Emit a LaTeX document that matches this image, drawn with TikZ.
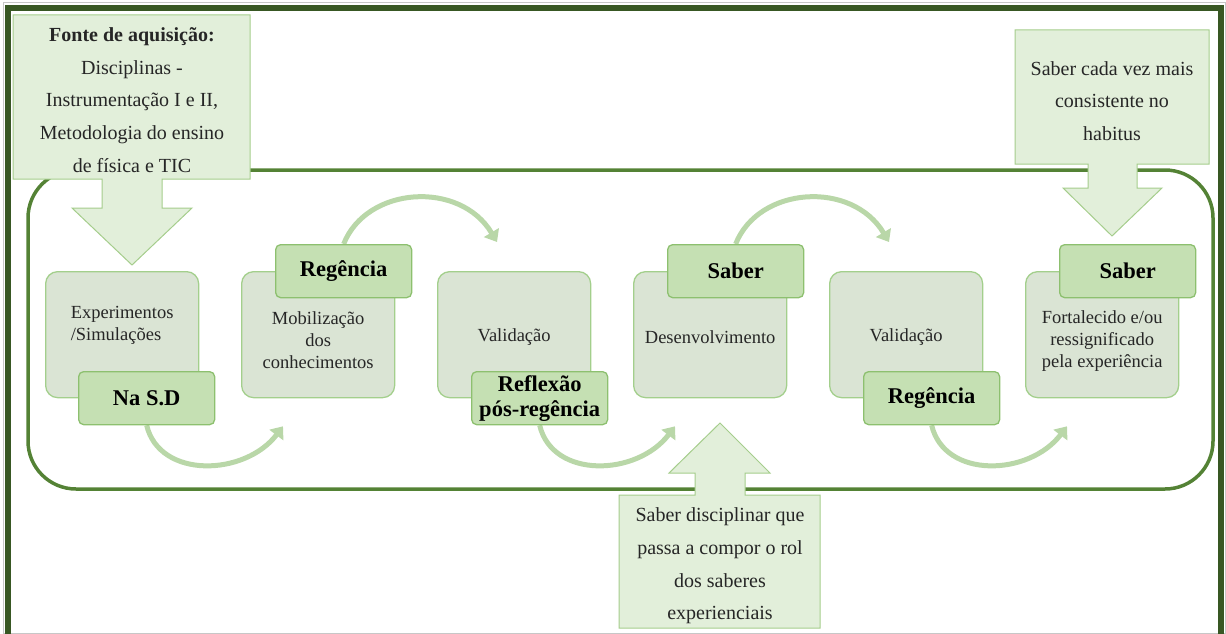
\documentclass[tikz,border=0pt]{standalone}
\usepackage{fontspec}
\setmainfont{Liberation Serif}
\usetikzlibrary{arrows.meta,calc}

\definecolor{framedark}{HTML}{385723}
\definecolor{framemid}{HTML}{548235}
\definecolor{callfill}{HTML}{E2EFDA}
\definecolor{calldraw}{HTML}{A5CD8C}
\definecolor{boxfill}{HTML}{DAE4D4}
\definecolor{boxdraw}{HTML}{A3CF8C}
\definecolor{tagfill}{HTML}{C5E0B3}
\definecolor{tagdraw}{HTML}{8DC06F}
\definecolor{arcgreen}{HTML}{B9D7A8}
\definecolor{bodytext}{HTML}{262626}

\pgfdeclarelayer{background}
\pgfsetlayers{background,main}

\tikzset{
  stage/.style={draw=boxdraw, fill=boxfill, line width=1.3pt, rounded corners=12pt,
    minimum width=153pt, minimum height=126pt, inner sep=0pt, anchor=north west},
  tag/.style={draw=tagdraw, fill=tagfill, line width=1.3pt, rounded corners=5pt,
    minimum width=136pt, minimum height=53pt, inner sep=0pt, anchor=north west,
    align=center, font=\fontsize{22.5}{25}\selectfont\bfseries},
  stagetext/.style={text=bodytext, font=\fontsize{18.5}{22}\selectfont, inner sep=0pt},
  calltext/.style={text=black!85, align=center, inner sep=0pt,
    font=\fontsize{20}{32.7}\selectfont},
  callout/.style={draw=calldraw, fill=callfill, line width=1pt},
  flow/.style={draw=arcgreen, line width=5pt,
    -{Triangle[length=11pt,width=17pt]}},
}

\begin{document}
\begin{tikzpicture}[x=1pt,y=-1pt]
  \useasboundingbox (0,0) rectangle (1226,634);

  % page frame
  \draw[black!22, line width=1pt] (3,3) rectangle (1225.5,633);
  \draw[framedark, line width=5.5pt] (8,636) -- (8,8) -- (1221,8) -- (1221,636);

  % rounded frame around the sequence
  \draw[framemid, line width=3.5pt, rounded corners=48pt] (28,170) rectangle (1213,489);

  % incoming / outgoing callouts
  \draw[callout] (13,15) -- (250,15) -- (250,179) -- (162,179) -- (162,208)
    -- (192,208) -- (132,265) -- (72,208) -- (102,208) -- (102,179) -- (13,179) -- cycle;
  \node[calltext] (src) at (132,100)
    {\textbf{Fonte de aquisição:}\\Disciplinas -\\Instrumentação I e II,\\Metodologia do ensino\\de física e TIC};

  \draw[callout] (1015,30) -- (1209,30) -- (1209,164) -- (1137,164) -- (1137,188)
    -- (1162,188) -- (1112,236) -- (1063,188) -- (1088,188) -- (1088,164) -- (1015,164) -- cycle;
  \node[calltext] (habitus) at (1112,101)
    {Saber cada vez mais\\consistente no\\habitus};

  \draw[callout] (619,628) -- (619,495) -- (695,495) -- (695,473) -- (669,473)
    -- (720,423) -- (770,473) -- (745,473) -- (745,495) -- (820,495) -- (820,628) -- cycle;
  \node[calltext] (rol) at (720,566)
    {Saber disciplinar que\\passa a compor o rol\\dos saberes\\experienciais};

  % stages
  \node[stage] (b1) at (45,271) {};
  \node[stage] (b2) at (241,271) {};
  \node[stage] (b3) at (437,271) {};
  \node[stage] (b4) at (633,271) {};
  \node[stage] (b5) at (829,271) {};
  \node[stage] (b6) at (1025,271) {};

  \node[stagetext, align=left] (t1) at ($(b1.center)+(0,-9)$) {Experimentos\\/Simulações};
  \node[stagetext, align=center] (t2) at ($(b2.center)+(0,6)$) {Mobilização\\dos\\conhecimentos};
  \node[stagetext] (t3) at ($(b3.center)+(0,2)$) {Validação};
  \node[stagetext] (t4) at ($(b4.center)+(0,3)$) {Desenvolvimento};
  \node[stagetext] (t5) at ($(b5.center)+(0,2)$) {Validação};
  \node[stagetext, align=center] (t6) at ($(b6.center)+(0,6)$) {Fortalecido e/ou\\ressignificado\\pela experiência};

  % stage tags
  \node[tag] (l1) at ($(b1.north west)+(33,100)$) {Na S.D};
  \node[tag] (l2) at ($(b2.north west)+(34,-27)$) {Regência};
  \node[tag] (l3) at ($(b3.north west)+(34,100)$) {Reflexão\\pós-regência};
  \node[tag] (l4) at ($(b4.north west)+(34,-27)$) {Saber};
  \node[tag] (l5) at ($(b5.north west)+(34,100)$) {Regência};
  \node[tag] (l6) at ($(b6.north west)+(34,-27)$) {Saber};

  % curved flow arrows between stages
  \begin{pgfonlayer}{background}
    \draw[flow] (l1.south) .. controls +(13,54) and +(-38,50) .. ($(b2.south west)+(42,28)$);
    \draw[flow] (l3.south) .. controls +(13,54) and +(-38,50) .. ($(b4.south west)+(42,28)$);
    \draw[flow] (l5.south) .. controls +(13,54) and +(-38,50) .. ($(b6.south west)+(42,28)$);
    \draw[flow] (l2.north) .. controls +(23,-58) and +(-37,-62) .. ($(b3.north west)+(60,-29)$);
    \draw[flow] (l4.north) .. controls +(23,-58) and +(-37,-62) .. ($(b5.north west)+(60,-29)$);
  \end{pgfonlayer}
\end{tikzpicture}
\end{document}
